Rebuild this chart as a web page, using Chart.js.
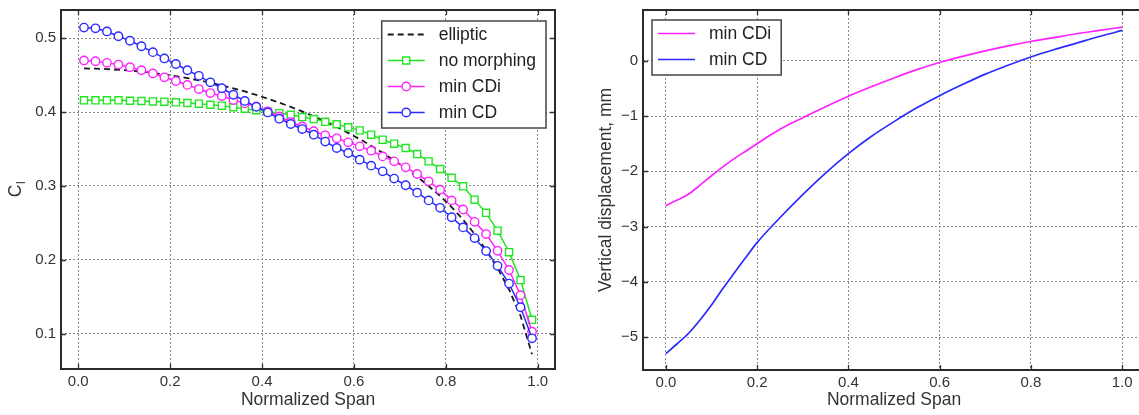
<!DOCTYPE html>
<html>
<head>
<meta charset="utf-8">
<script src="https://cdn.jsdelivr.net/npm/chart.js@4.4.1/dist/chart.umd.min.js"></script>
<style>
html,body{margin:0;padding:0;background:#fff;overflow:hidden;width:1139px;height:415px;}
.box{position:absolute;top:0;height:415px;}
</style>
</head>
<body>
<div class="box" style="left:0;width:570px"><canvas id="c1" width="570" height="415"></canvas></div>
<div class="box" style="left:580px;width:565px"><canvas id="c2" width="565" height="415"></canvas></div>
<script>
// ---------- data: left panel (lift distribution) ----------
const span = [0.0125,0.0375,0.0625,0.0875,0.1125,0.1375,0.1625,0.1875,0.2125,0.2375,
              0.2625,0.2875,0.3125,0.3375,0.3625,0.3875,0.4125,0.4375,0.4625,0.4875,
              0.5125,0.5375,0.5625,0.5875,0.6125,0.6375,0.6625,0.6875,0.7125,0.7375,
              0.7625,0.7875,0.8125,0.8375,0.8625,0.8875,0.9125,0.9375,0.9625,0.9875];
const elliptic = [0.459,0.4587,0.4581,0.4572,0.4561,0.4546,0.4529,0.4509,0.4485,0.4459,
                  0.4429,0.4396,0.4360,0.4321,0.4278,0.4231,0.4181,0.4127,0.4070,0.4008,
                  0.3941,0.3871,0.3797,0.3718,0.3634,0.3544,0.3448,0.3346,0.3240,0.3125,
                  0.3000,0.2865,0.2715,0.2545,0.2350,0.2135,0.1890,0.1600,0.1245,0.0723];
const noMorphing = [0.4158,0.4158,0.4158,0.4158,0.4153,0.4149,0.4144,0.4140,0.4131,0.4122,
                    0.4113,0.4099,0.4086,0.4065,0.4045,0.4025,0.4005,0.3985,0.3962,0.3932,
                    0.3905,0.3868,0.3835,0.3793,0.3752,0.3694,0.3626,0.3572,0.3514,0.3432,
                    0.3333,0.3230,0.3110,0.2995,0.2815,0.2637,0.2396,0.2105,0.1727,0.1190];
const minCDi = [0.4698,0.4687,0.4665,0.4642,0.4606,0.4565,0.4522,0.4470,0.4419,0.4367,
                0.4311,0.4257,0.4216,0.4162,0.4117,0.4077,0.4010,0.3940,0.3865,0.3805,
                0.3740,0.3685,0.3645,0.3590,0.3536,0.3477,0.3400,0.3333,0.3252,0.3162,
                0.3063,0.2950,0.2805,0.2682,0.2515,0.2350,0.2123,0.1864,0.1523,0.1030];
const minCD = [0.5142,0.5132,0.5090,0.5025,0.4964,0.4890,0.4810,0.4725,0.4650,0.4565,
               0.4490,0.4402,0.4322,0.4234,0.4150,0.4070,0.3995,0.3910,0.3838,0.3770,
               0.3694,0.3600,0.3514,0.3446,0.3356,0.3275,0.3198,0.3100,0.3010,0.2910,
               0.2805,0.2705,0.2577,0.2440,0.2295,0.2120,0.1920,0.1680,0.1360,0.0940];
const clTicks = [0.1,0.2,0.3,0.4,0.5];
const spanTicks = [0.0,0.2,0.4,0.6,0.8,1.0];

// ---------- data: right panel (vertical displacement, mm) ----------
const spanR = [0,0.025,0.05,0.075,0.1,0.125,0.15,0.175,0.2,0.25,0.3,0.35,0.4,0.45,0.5,
               0.55,0.6,0.65,0.7,0.75,0.8,0.85,0.9,0.95,1.0];
const dispCDi = [-2.62,-2.52,-2.41,-2.25,-2.08,-1.92,-1.77,-1.635,-1.50,-1.24,-1.03,-0.83,-0.64,-0.47,-0.31,
                 -0.16,-0.03,0.08,0.18,0.27,0.35,0.42,0.49,0.55,0.61];
const dispCD = [-5.30,-5.12,-4.93,-4.69,-4.42,-4.12,-3.84,-3.56,-3.29,-2.84,-2.42,-2.03,-1.68,-1.37,-1.10,
                -0.85,-0.63,-0.43,-0.24,-0.08,0.07,0.20,0.32,0.44,0.55];
const dispTicks = [-5,-4,-3,-2,-1,0];

const labelsLeft = ['elliptic','no morphing','min CDi','min CD'];
const labelsRight = ['min CDi','min CD'];

// ---------- styling ----------
const FONT = "'Liberation Sans', Arial, sans-serif";
const TXT = '#333';
const GREEN = '#22e622', MAGENTA = '#ff22ff', BLUE = '#2b2bff';

const pts = (xs, ys) => xs.map((x, i) => ({x: x, y: ys[i]}));
const minus = v => (v < 0 ? '\u2212' + Math.abs(v) : String(v));

function decorPlugin(cfg) {
  return {
    id: 'decor',
    afterDatasetsDraw(chart) {
      const ctx = chart.ctx, ca = chart.chartArea;
      const xs = chart.scales.x, ys = chart.scales.y;
      ctx.save();
      ctx.strokeStyle = '#333'; ctx.lineWidth = 1.3;
      ctx.beginPath();
      xs.ticks.forEach(t => {
        const p = Math.round(xs.getPixelForValue(t.value)) + 0.5;
        ctx.moveTo(p, ca.bottom); ctx.lineTo(p, ca.bottom - 5);
        ctx.moveTo(p, ca.top); ctx.lineTo(p, ca.top + 5);
      });
      ys.ticks.forEach(t => {
        const p = Math.round(ys.getPixelForValue(t.value)) + 0.5;
        ctx.moveTo(ca.left, p); ctx.lineTo(ca.left + 5, p);
        ctx.moveTo(ca.right, p); ctx.lineTo(ca.right - 5, p);
      });
      ctx.stroke();
      ctx.strokeStyle = '#2a2a2a'; ctx.lineWidth = 2;
      ctx.strokeRect(ca.left, ca.top, ca.right - ca.left, ca.bottom - ca.top);
      ctx.restore();
    },
    afterDraw(chart) {
      const ctx = chart.ctx, ca = chart.chartArea;
      ctx.save();
      ctx.fillStyle = TXT;
      ctx.font = '17.5px ' + FONT;
      ctx.textAlign = 'center'; ctx.textBaseline = 'middle';
      ctx.fillText('Normalized Span', (ca.left + ca.right) / 2, 400);
      ctx.translate(cfg.yTitleX, (ca.top + ca.bottom) / 2);
      ctx.rotate(-Math.PI / 2);
      if (cfg.yTitleSub) {
        ctx.font = '17.5px ' + FONT;
        const w1 = ctx.measureText(cfg.yTitle).width;
        ctx.font = '12px ' + FONT;
        const w2 = ctx.measureText(cfg.yTitleSub).width;
        const x0 = -(w1 + w2) / 2;
        ctx.textAlign = 'left';
        ctx.font = '17.5px ' + FONT;
        ctx.fillText(cfg.yTitle, x0, 0);
        ctx.font = '12px ' + FONT;
        ctx.fillText(cfg.yTitleSub, x0 + w1 + 0.5, 6);
      } else {
        ctx.font = '17.5px ' + FONT;
        ctx.fillText(cfg.yTitle, 0, 0);
      }
      ctx.restore();

      ctx.save();
      const items = cfg.legendLabels.map(lb => chart.data.datasets.find(d => d.label === lb));
      ctx.font = '17.5px ' + FONT;
      const maxW = Math.max(...items.map(d => ctx.measureText(d.label).width));
      const bw = 6 + 37 + 14 + maxW + 10;
      const bh = 26 * items.length + 3;
      const bx = cfg.legendSide === 'right' ? ca.right - 9 - bw : ca.left + 9;
      const by = ca.top + cfg.legendTop;
      ctx.fillStyle = '#fff';
      ctx.fillRect(bx, by, bw, bh);
      ctx.strokeStyle = '#444'; ctx.lineWidth = 1.5;
      ctx.strokeRect(bx, by, bw, bh);
      items.forEach((d, i) => {
        const cy = by + 13.5 + 26 * i;
        const lx0 = bx + 6, lx1 = bx + 43;
        ctx.strokeStyle = d.borderColor; ctx.lineWidth = d.borderWidth;
        ctx.setLineDash(d.borderDash || []);
        ctx.beginPath(); ctx.moveTo(lx0, cy); ctx.lineTo(lx1, cy); ctx.stroke();
        ctx.setLineDash([]);
        if (d.pointRadius > 0) {
          const mx = (lx0 + lx1) / 2;
          ctx.fillStyle = '#fff'; ctx.lineWidth = d.pointBorderWidth;
          ctx.beginPath();
          if (d.pointStyle === 'rect') {
            const s = d.pointRadius * Math.SQRT1_2;
            ctx.rect(mx - s, cy - s, 2 * s, 2 * s);
          } else {
            ctx.arc(mx, cy, d.pointRadius, 0, Math.PI * 2);
          }
          ctx.fill(); ctx.stroke();
        }
        ctx.fillStyle = '#222';
        ctx.textAlign = 'left'; ctx.textBaseline = 'middle';
        ctx.fillText(d.label, lx1 + 14, cy + 1);
      });
      ctx.restore();
    }
  };
}

function axisX(min, max, h) {
  return {
    type: 'linear', min: min, max: max,
    afterBuildTicks: s => { s.ticks = spanTicks.map(v => ({value: v})); },
    afterFit: s => { s.height = h; s.paddingLeft = 0; s.paddingRight = 0; },
    ticks: {callback: v => Number(v).toFixed(1), padding: 4, color: TXT,
            font: {size: 15, family: FONT}, maxRotation: 0, autoSkip: false},
    grid: {color: '#8a8a8a', lineWidth: 1, drawTicks: false},
    border: {display: false, dash: [2, 2]}
  };
}
function axisY(min, max, ticksArr, fmt, w) {
  return {
    type: 'linear', min: min, max: max,
    afterBuildTicks: s => { s.ticks = ticksArr.map(v => ({value: v})); },
    afterFit: s => { s.width = w; s.paddingTop = 0; s.paddingBottom = 0; },
    ticks: {callback: fmt, padding: 5, color: TXT, font: {size: 15, family: FONT}, autoSkip: false},
    grid: {color: '#8a8a8a', lineWidth: 1, drawTicks: false},
    border: {display: false, dash: [2, 2]}
  };
}

const commonOpts = {
  responsive: false, animation: false, devicePixelRatio: 1,
  plugins: {legend: {display: false}, tooltip: {enabled: false}},
  events: []
};

new Chart(document.getElementById('c1'), {
  type: 'line',
  data: {
    datasets: [
      {label: labelsLeft[0], data: pts(span, elliptic), borderColor: '#1a1a1a', borderWidth: 1.8,
       borderDash: [6, 4], pointRadius: 0, pointBorderWidth: 0, tension: 0, order: 3},
      {label: labelsLeft[1], data: pts(span, noMorphing), borderColor: GREEN, borderWidth: 1.5,
       pointStyle: 'rect', pointRadius: 5, pointBorderWidth: 1.4, pointBorderColor: GREEN,
       pointBackgroundColor: '#fff', tension: 0, order: 2},
      {label: labelsLeft[2], data: pts(span, minCDi), borderColor: MAGENTA, borderWidth: 1.5,
       pointStyle: 'circle', pointRadius: 4.2, pointBorderWidth: 1.4, pointBorderColor: MAGENTA,
       pointBackgroundColor: '#fff', tension: 0, order: 1},
      {label: labelsLeft[3], data: pts(span, minCD), borderColor: BLUE, borderWidth: 1.5,
       pointStyle: 'circle', pointRadius: 4.2, pointBorderWidth: 1.4, pointBorderColor: BLUE,
       pointBackgroundColor: '#fff', tension: 0, order: 0}
    ]
  },
  options: Object.assign({}, commonOpts, {
    layout: {padding: {top: 10, right: 15, bottom: 0, left: 0}},
    scales: {
      x: axisX(-0.0375, 1.0375, 46),
      y: axisY(0.0525, 0.538, clTicks, v => Number(v).toFixed(1), 61)
    }
  }),
  plugins: [decorPlugin({yTitle: 'C', yTitleSub: 'l', yTitleX: 16, legendLabels: labelsLeft,
                         legendSide: 'right', legendTop: 11})]
});

new Chart(document.getElementById('c2'), {
  type: 'line',
  data: {
    datasets: [
      {label: labelsRight[0], data: pts(spanR, dispCDi), borderColor: MAGENTA, borderWidth: 1.7,
       pointRadius: 0, pointBorderWidth: 0, cubicInterpolationMode: 'monotone', order: 1},
      {label: labelsRight[1], data: pts(spanR, dispCD), borderColor: BLUE, borderWidth: 1.7,
       pointRadius: 0, pointBorderWidth: 0, cubicInterpolationMode: 'monotone', order: 0}
    ]
  },
  options: Object.assign({}, commonOpts, {
    layout: {padding: {top: 10, right: 0, bottom: 0, left: 0}},
    scales: {
      x: axisX(-0.05, 1.05, 45),
      y: axisY(-5.595, 0.92, dispTicks, v => minus(v), 63)
    }
  }),
  plugins: [decorPlugin({yTitle: 'Vertical displacement, mm', yTitleX: 26, legendLabels: labelsRight,
                         legendSide: 'left', legendTop: 10})]
});
</script>
</body>
</html>
